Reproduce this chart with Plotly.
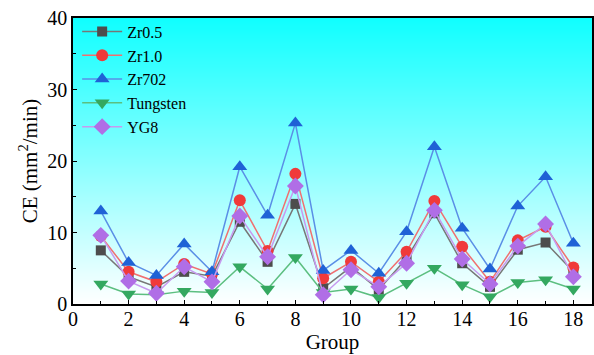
import base64
import struct
import zlib
import plotly.graph_objects as go

groups = list(range(1, 19))
zr05 = [7.5, 3.8, 2.4, 4.5, 3.9, 11.5, 5.9, 14.0, 2.2, 5.2, 2.0, 6.4, 12.7, 5.7, 2.4, 7.6, 8.6, 4.5]
zr10 = [9.5, 4.5, 3.1, 5.6, 4.2, 14.5, 7.4, 18.2, 3.6, 5.9, 3.1, 7.3, 14.4, 8.0, 3.1, 8.9, 10.8, 5.1]
zr702 = [13.0, 5.8, 4.0, 8.4, 4.5, 19.2, 12.4, 25.3, 4.7, 7.5, 4.3, 10.1, 22.0, 10.6, 4.9, 13.7, 17.8, 8.5]
tungsten = [2.8, 1.4, 1.3, 1.8, 1.6, 5.2, 2.1, 6.5, 1.6, 2.1, 0.9, 2.9, 5.0, 2.7, 1.0, 3.0, 3.4, 2.1]
yg8 = [9.6, 3.2, 1.5, 5.2, 3.1, 12.3, 6.6, 16.5, 1.3, 4.8, 2.4, 5.7, 13.1, 6.3, 2.8, 8.1, 11.2, 3.8]

series = [
    ("Zr0.5", zr05, "#4d4d4d", "#777777", "square", 10),
    ("Zr1.0", zr10, "#f03a3a", "#f07070", "circle", 12),
    ("Zr702", zr702, "#1f62d6", "#5a8fe6", "triangle-up", 13),
    ("Tungsten", tungsten, "#34a860", "#5cbf80", "triangle-down", 13),
    ("YG8", yg8, "#b06ee6", "#c79af0", "diamond", 13),
]

fig = go.Figure()
for name, vals, mc, lc, sym, sz in series:
    fig.add_trace(go.Scatter(
        x=groups, y=vals, name=name, mode="lines+markers",
        line=dict(color=lc, width=1.5),
        marker=dict(symbol=sym, size=sz, color=mc, line=dict(width=0)),
    ))


def gradient_png(h=256):
    top = (0x10, 0xFF, 0xFF)
    bot = (0xFF, 0xFF, 0xFF)
    raw = b""
    for i in range(h):
        t = i / (h - 1)
        px = bytes(int(round(top[k] + (bot[k] - top[k]) * t)) for k in range(3))
        raw += b"\x00" + px * 2
    def chunk(tag, data):
        c = struct.pack(">I", len(data)) + tag + data
        return c + struct.pack(">I", zlib.crc32(tag + data) & 0xFFFFFFFF)
    png = b"\x89PNG\r\n\x1a\n"
    png += chunk(b"IHDR", struct.pack(">IIBBBBB", 2, h, 8, 2, 0, 0, 0))
    png += chunk(b"IDAT", zlib.compress(raw))
    png += chunk(b"IEND", b"")
    return "data:image/png;base64," + base64.b64encode(png).decode()


font_family = "Liberation Serif"
fig.update_layout(
    width=594, height=355,
    margin=dict(l=73, r=0, t=18, b=51),
    paper_bgcolor="white", plot_bgcolor="rgba(0,0,0,0)",
    font=dict(family=font_family, color="black", size=18),
    images=[dict(source=gradient_png(), xref="paper", yref="paper", x=0, y=1, sizex=1, sizey=1,
                 sizing="stretch", layer="below", xanchor="left", yanchor="top")],
    showlegend=True,
    legend=dict(x=0.008, y=1.012, xanchor="left", yanchor="top", bgcolor="rgba(0,0,0,0)",
                font=dict(size=16, family=font_family), tracegroupgap=0, itemwidth=40),
    xaxis=dict(range=[0, 18.67], tickvals=list(range(0, 19, 2)), ticks="inside", ticklen=4,
               tickwidth=1.2, tickcolor="black", showline=True, linecolor="black", linewidth=1.5,
               mirror=True, showgrid=False, zeroline=False, ticklabelstandoff=-4,
               minor=dict(tickvals=list(range(1, 19, 2)), ticks="inside", ticklen=3, tickcolor="black"),
               title=dict(text="Group", font=dict(size=21, family=font_family), standoff=2),
               tickfont=dict(size=20, family=font_family)),
    yaxis=dict(range=[0, 40], tickvals=[0, 10, 20, 30, 40], ticks="inside", ticklen=4,
               tickwidth=1.2, tickcolor="black", showline=True, linecolor="black", linewidth=1.5,
               mirror=True, showgrid=False, zeroline=False,
               minor=dict(tickvals=[5, 15, 25, 35], ticks="inside", ticklen=3, tickcolor="black"),
               title=dict(text="CE (mm<sup>2</sup>/min)", font=dict(size=21, family=font_family), standoff=4),
               tickfont=dict(size=20, family=font_family)),
)

fig.write_html("out.html")
